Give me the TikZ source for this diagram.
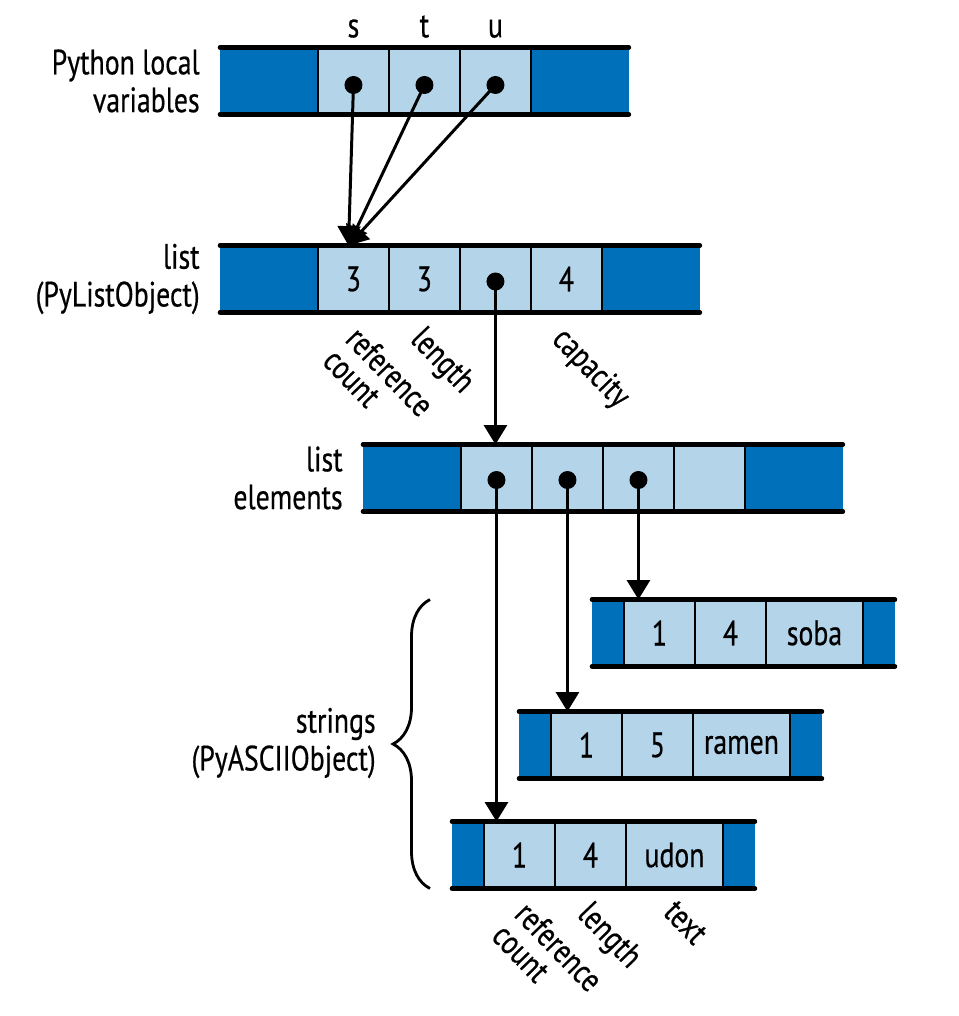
\documentclass[tikz,border=0pt]{standalone}
\usepackage{fontspec}
\setmainfont{PT Sans}[FakeStretch=0.79, FakeBold=0.5]
\usepackage{tikz}
\usetikzlibrary{arrows.meta,positioning,decorations.pathreplacing}
\definecolor{pyDark}{RGB}{0,112,186}
\definecolor{pyLight}{RGB}{180,212,234}

\begin{document}
\begin{tikzpicture}[
        x=0.02cm, y=-0.02cm,
        every node/.style={font=\fontsize{20}{21.5}\selectfont},
        % dark end blocks and light cells
        blk/.style={rectangle, fill=pyDark, minimum height=1.34cm, inner sep=0pt, outer sep=0pt},
        cell/.style={rectangle, fill=pyLight, draw=black, line width=1.6pt, minimum width=1.42cm, minimum height=1.34cm, inner sep=0pt, outer sep=0pt},
        % top and bottom rails, dividers
        rail/.style={line width=2.6pt, line cap=round},
        sep/.style={line width=1.6pt},
        % pointer dots and arrows
        dot/.style={circle, fill=black, minimum size=0.36cm, inner sep=0pt},
        ptr/.style={line width=1.7pt, -{Triangle[width=13pt,length=11pt]}},
        % side labels and rotated field names
        lbl/.style={align=right, anchor=east, inner sep=0pt},
        tag/.style={rotate=-46, anchor=north west, align=left, inner sep=0pt, font=\fontsize{19.5}{18}\selectfont}
    ]
        \useasboundingbox (0,0) rectangle (958,1016);

        % 1. Python local variables
        \node[lbl] (pyvars) at (200,81) {Python local\\variables};
        \node[blk, minimum width=1.96cm, anchor=west] (vl) at (220,81) {};
        \node[cell, right=0pt of vl] (s) {};
        \node[cell, right=0pt of s] (t) {};
        \node[cell, right=0pt of t] (u) {};
        \node[blk, minimum width=1.96cm, right=0pt of u] (vr) {};
        \draw[sep] (u.north east) -- (u.south east);
        \draw[rail] (vl.north west) -- (vr.north east);
        \draw[rail] (vl.south west) -- (vr.south east);
        \node[above=2pt of s] (ns) {s};
        \node[above=2pt of t] (nt) {t};
        \node[above=2pt of u] (nu) {u};

        % 2. list (PyListObject)
        \node[lbl] (pylist) at (200,279) {list\\(PyListObject)};
        \node[blk, minimum width=1.96cm, anchor=west] (ll) at (220,279) {};
        \node[cell, right=0pt of ll] (rc) {3};
        \node[cell, right=0pt of rc] (ln) {3};
        \node[cell, right=0pt of ln] (lp) {};
        \node[cell, right=0pt of lp] (cp) {4};
        \node[blk, minimum width=1.96cm, right=0pt of cp] (lr) {};
        \draw[sep] (cp.north east) -- (cp.south east);
        \draw[rail] (ll.north west) -- (lr.north east);
        \draw[rail] (ll.south west) -- (lr.south east);
        \node[tag] (trc) at ([xshift=0.16cm,yshift=-0.22cm]rc.south) {reference\\count};
        \node[tag] (tln) at ([xshift=0.04cm,yshift=-0.22cm]ln.south) {length};
        \node[tag] (tcp) at ([xshift=0.04cm,yshift=-0.22cm]cp.south) {capacity};

        % 3. list elements
        \node[lbl] (pyelems) at (343,478) {list\\elements};
        \node[blk, minimum width=1.96cm, anchor=west] (el) at (363,478) {};
        \node[cell, right=0pt of el] (e1) {};
        \node[cell, right=0pt of e1] (e2) {};
        \node[cell, right=0pt of e2] (e3) {};
        \node[cell, right=0pt of e3] (e4) {};
        \node[blk, minimum width=1.96cm, right=0pt of e4] (er) {};
        \draw[sep] (e4.north east) -- (e4.south east);
        \draw[rail] (el.north west) -- (er.north east);
        \draw[rail] (el.south west) -- (er.south east);

        % 4. strings (PyASCIIObject)
        \node[blk, minimum width=0.64cm, anchor=west] (sbl) at (592,633) {};
        \node[cell, right=0pt of sbl] (sb1) {1};
        \node[cell, right=0pt of sb1] (sb2) {4};
        \node[cell, minimum width=1.94cm, right=0pt of sb2] (sbt) {soba};
        \node[blk, minimum width=0.64cm, right=0pt of sbt] (sbr) {};
        \draw[sep] (sbt.north east) -- (sbt.south east);
        \draw[rail] (sbl.north west) -- (sbr.north east);
        \draw[rail] (sbl.south west) -- (sbr.south east);

        \node[blk, minimum width=0.64cm, anchor=west] (rml) at (519,745) {};
        \node[cell, right=0pt of rml] (rm1) {1};
        \node[cell, right=0pt of rm1] (rm2) {5};
        \node[cell, minimum width=1.94cm, right=0pt of rm2] (rmt) {ramen};
        \node[blk, minimum width=0.64cm, right=0pt of rmt] (rmr) {};
        \draw[sep] (rmt.north east) -- (rmt.south east);
        \draw[rail] (rml.north west) -- (rmr.north east);
        \draw[rail] (rml.south west) -- (rmr.south east);

        \node[blk, minimum width=0.64cm, anchor=west] (udl) at (452,855) {};
        \node[cell, right=0pt of udl] (ud1) {1};
        \node[cell, right=0pt of ud1] (ud2) {4};
        \node[cell, minimum width=1.94cm, right=0pt of ud2] (udt) {udon};
        \node[blk, minimum width=0.64cm, right=0pt of udt] (udr) {};
        \draw[sep] (udt.north east) -- (udt.south east);
        \draw[rail] (udl.north west) -- (udr.north east);
        \draw[rail] (udl.south west) -- (udr.south east);
        \node[tag] (tud1) at ([xshift=0.22cm,yshift=-0.2cm]ud1.south) {reference\\count};
        \node[tag] (tud2) at ([xshift=0.06cm,yshift=-0.2cm]ud2.south) {length};
        \node[tag] (tudt) at ([xshift=0.06cm,yshift=-0.2cm]udt.south) {text};

        % brace round the three strings
        \coordinate (bb) at ([xshift=-0.44cm]udl.south west);
        \coordinate (bt) at (bb |- sbl.north);
        \draw[decorate, decoration={brace, amplitude=0.74cm}, line width=1.6pt] (bb) -- (bt);
        \node[lbl] (pystrs) at (376,743) {strings\\(PyASCIIObject)};

        % 5. pointers
        \node[dot] (ds) at ([yshift=-0.08cm]s.center) {};
        \node[dot] (dt) at ([yshift=-0.08cm]t.center) {};
        \node[dot] (du) at ([yshift=-0.08cm]u.center) {};
        \node[dot] (dl) at ([yshift=-0.05cm]lp.center) {};
        \node[dot] (de1) at ([yshift=-0.04cm]e1.center) {};
        \node[dot] (de2) at ([yshift=-0.04cm]e2.center) {};
        \node[dot] (de3) at ([yshift=-0.04cm]e3.center) {};
        \coordinate (lt) at ([xshift=-0.1cm]rc.north);
        \draw[ptr] (ds.center) -- (lt);
        \draw[ptr] (dt.center) -- (lt);
        \draw[ptr] (du.center) -- (lt);
        \draw[ptr] (dl.center) -- (dl |- e1.north);
        \draw[ptr] (de1.center) -- (de1 |- ud1.north);
        \draw[ptr] (de2.center) -- (de2 |- rm1.north);
        \draw[ptr] (de3.center) -- (de3 |- sb1.north);

    \end{tikzpicture}
\end{document}
